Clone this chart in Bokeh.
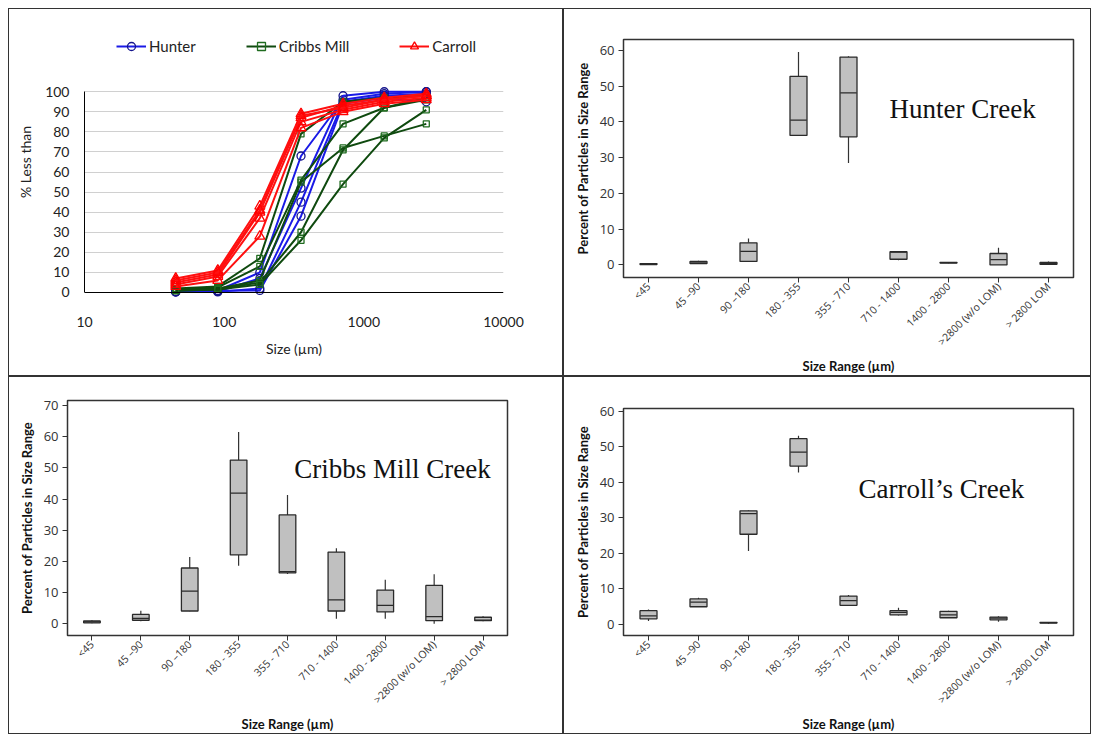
import math
from bokeh.plotting import figure
from bokeh.models import (Range1d, FactorRange, FixedTicker, Legend, LegendItem, Label,
                          ColumnDataSource, BasicTickFormatter, Span)
from bokeh.embed import file_html
from bokeh.resources import INLINE

# ---------------- data: cumulative curves ----------------
sizes = [45, 90, 180, 355, 710, 1400, 2800]

hunter_1 = [0.5, 1.0, 10, 68, 96, 99, 100]
hunter_2 = [0.3, 0.5, 7, 52, 98, 100, 100]
hunter_3 = [0.2, 0.3, 2, 45, 95, 98, 99]
hunter_4 = [0.4, 0.8, 1, 38, 94, 97, 95]

cribbs_1 = [2.0, 3.0, 17, 79, 95, 97, 98]
cribbs_2 = [1.5, 2.5, 13, 56, 84, 92, 96]
cribbs_3 = [1.0, 2.0, 6, 55, 72, 78, 84]
cribbs_4 = [1.0, 1.5, 5, 30, 71, 92, 97]
cribbs_5 = [0.8, 1.5, 4, 26, 54, 77, 91]

carroll_1 = [7, 11, 43, 89, 94, 97, 99]
carroll_2 = [5, 9, 40, 87, 93, 96, 98]
carroll_3 = [4, 8, 37, 85, 91, 95, 97]
carroll_4 = [3, 6, 28, 82, 90, 94, 96]
carroll_5 = [6, 10, 41, 88, 92, 96, 98]

# ---------------- data: box plots ----------------
categories = ["<45", "45 \u201390", "90 \u2013180", "180 - 355", "355 - 710",
              "710 - 1400", "1400 - 2800", ">2800 (w/o LOM)", "> 2800 LOM"]

hunter_lo  = [0.0, 0.3, 1.0, 36.2, 28.5, 1.3, 0.5, 0.0, 0.0]
hunter_q1  = [0.1, 0.4, 1.0, 36.2, 35.8, 1.6, 0.55, 0.0, 0.2]
hunter_med = [0.2, 0.6, 3.8, 40.5, 48.1, 3.6, 0.65, 1.5, 0.4]
hunter_q3  = [0.4, 1.0, 6.2, 52.7, 58.1, 3.7, 0.75, 3.2, 0.7]
hunter_hi  = [0.5, 1.2, 7.4, 59.5, 58.3, 3.9, 0.8, 4.8, 1.0]

cribbs_lo  = [0.2, 0.8, 4.0, 18.6, 16.0, 1.6, 1.6, 0.0, 0.8]
cribbs_q1  = [0.3, 1.1, 4.1, 22.1, 16.3, 4.1, 3.8, 1.0, 1.0]
cribbs_med = [0.6, 1.7, 10.5, 41.9, 16.7, 7.7, 5.9, 2.3, 1.2]
cribbs_q3  = [0.9, 3.0, 17.9, 52.5, 34.9, 23.0, 10.8, 12.3, 2.1]
cribbs_hi  = [1.1, 4.2, 21.4, 61.5, 41.3, 24.2, 14.1, 15.9, 2.4]

carroll_lo  = [1.0, 5.0, 20.7, 42.8, 5.2, 2.5, 1.8, 0.8, 0.2]
carroll_q1  = [1.6, 5.0, 25.4, 44.6, 5.4, 2.7, 1.9, 1.3, 0.4]
carroll_med = [2.4, 6.3, 31.2, 48.5, 6.7, 3.4, 2.7, 1.8, 0.5]
carroll_q3  = [3.9, 7.2, 32.0, 52.3, 8.0, 3.9, 3.7, 2.1, 0.6]
carroll_hi  = [4.2, 7.5, 32.2, 53.1, 8.3, 4.7, 3.9, 2.3, 0.6]

SANS = "Lato"


def panel_style(left, top):
    return {"position": "absolute", "left": f"{left}px", "top": f"{top}px",
            "border": "1.5px solid #333333", "box-sizing": "border-box"}


# ---------------- panel 1: cumulative curves ----------------
p1 = figure(width=555, height=368, x_axis_type="log",
            x_range=Range1d(10, 10000), y_range=Range1d(-3, 133),
            output_backend="svg", toolbar_location=None,
            min_border_left=75, min_border_right=61, min_border_top=16, min_border_bottom=79)
p1.styles = panel_style(8, 8)
p1.outline_line_color = None
p1.xgrid.visible = False
p1.ygrid.ticker = FixedTicker(ticks=list(range(10, 101, 10)))
p1.ygrid.grid_line_color = "#d0d0d0"
p1.add_layout(Span(location=0, dimension="width", line_color="#000000", line_width=1.2))

p1.xaxis.ticker = FixedTicker(ticks=[10, 100, 1000, 10000])
p1.xaxis.formatter = BasicTickFormatter(use_scientific=False)
p1.xaxis.axis_line_color = None
p1.xaxis.major_tick_line_color = None
p1.xaxis.minor_tick_line_color = None
p1.xaxis.major_label_standoff = 12
p1.xaxis.axis_label = "Size (\u00b5m)"
p1.xaxis.axis_label_standoff = 10

p1.yaxis.ticker = FixedTicker(ticks=list(range(0, 101, 10)))
p1.yaxis.bounds = (0, 100)
p1.yaxis.major_tick_line_color = None
p1.yaxis.minor_tick_line_color = None
p1.yaxis.major_label_standoff = 9
p1.yaxis.axis_line_color = "#000000"
p1.yaxis.axis_label = "% Less than"
p1.yaxis.axis_label_standoff = 8

for ax in (p1.xaxis, p1.yaxis):
    ax.major_label_text_font = SANS
    ax.major_label_text_font_size = "14px"
    ax.major_label_text_color = "#222222"
    ax.axis_label_text_font = SANS
    ax.axis_label_text_font_size = "14px"
    ax.axis_label_text_font_style = "normal"
    ax.axis_label_text_color = "#222222"

groups = [
    ("Hunter", [hunter_1, hunter_2, hunter_3, hunter_4], "#1a1ae6", "#14148c", "circle", 8),
    ("Cribbs Mill", [cribbs_1, cribbs_2, cribbs_3, cribbs_4, cribbs_5], "#0f4a0f", "#1f6b1f", "square", 6),
    ("Carroll", [carroll_1, carroll_2, carroll_3, carroll_4, carroll_5], "#ff1010", "#ff0000", "triangle", 10),
]
items = []
for name, runs, lcol, mcol, marker, msize in groups:
    first = None
    for run in runs:
        lr = p1.line(sizes, run, line_color=lcol, line_width=2)
        sr = p1.scatter(sizes, run, marker=marker, size=msize, line_color=mcol,
                        fill_color=None, line_width=1.3)
        if first is None:
            first = [lr, sr]
    items.append(LegendItem(label=name, renderers=first))

legend = Legend(items=items, location=(32, 242), orientation="horizontal",
                spacing=50, padding=0, margin=0, glyph_width=30, glyph_height=20,
                label_standoff=3, background_fill_alpha=0, border_line_color=None,
                label_text_font=SANS, label_text_font_size="15px", label_text_color="#222222")
p1.add_layout(legend)


# ---------------- box plot panels ----------------
def box_panel(lo, q1, med, q3, hi, y_end, y_start, y_ticks, creek, cx, cy,
              width, height, mb, pos):
    p = figure(width=width, height=height, x_range=FactorRange(*categories),
               y_range=Range1d(y_start, y_end), output_backend="svg",
               toolbar_location=None, min_border_left=mb[0], min_border_right=mb[1],
               min_border_top=mb[2], min_border_bottom=mb[3])
    p.styles = panel_style(*pos)
    src = ColumnDataSource(dict(x=categories, lo=lo, q1=q1, med=med, q3=q3, hi=hi))
    p.segment(x0="x", y0="lo", x1="x", y1="q1", source=src, line_color="#333333", line_width=1.2)
    p.segment(x0="x", y0="q3", x1="x", y1="hi", source=src, line_color="#333333", line_width=1.2)
    p.vbar(x="x", bottom="q1", top="q3", width=0.34, source=src,
           fill_color="#c0c0c0", line_color="#2a2a2a", line_width=1.3)
    p.scatter(x="x", y="med", marker="dash", size=16.5, source=src,
              line_color="#2a2a2a", line_width=1.3)
    p.grid.visible = False
    p.outline_line_color = "#333333"
    p.outline_line_width = 1.5
    p.yaxis.ticker = FixedTicker(ticks=y_ticks)
    for ax in (p.xaxis, p.yaxis):
        ax.axis_line_color = "#333333"
        ax.major_tick_line_color = "#333333"
        ax.major_tick_in = 0
        ax.major_tick_out = 5
        ax.minor_tick_line_color = None
        ax.major_label_text_font = "Open Sans"
        ax.major_label_text_color = "#333333"
        ax.axis_label_text_font = SANS
        ax.axis_label_text_font_style = "bold"
        ax.axis_label_text_font_size = "13px"
        ax.axis_label_text_color = "#111111"
    p.yaxis.major_label_text_font_size = "13px"
    p.yaxis.major_label_standoff = 4
    p.yaxis.axis_label = "Percent of Particles in Size Range"
    p.yaxis.axis_label_standoff = 6
    p.xaxis.major_label_text_font_size = "10.5px"
    p.xaxis.major_label_orientation = math.pi / 4
    p.xaxis.major_label_standoff = 2
    p.xaxis.axis_label = "Size Range (\u00b5m)"
    p.xaxis.axis_label_standoff = 2
    p.add_layout(Label(x=cx, y=cy, text=creek, text_font="Liberation Serif",
                       text_font_size="27px", text_color="#111111", text_baseline="middle"))
    return p


p2 = box_panel(hunter_lo, hunter_q1, hunter_med, hunter_q3, hunter_hi,
               63, -3.5, list(range(0, 61, 10)), "Hunter Creek", 5.32, 43.6,
               528, 368, (59, 19, 30, 95), (563, 8))
p3 = box_panel(cribbs_lo, cribbs_q1, cribbs_med, cribbs_q3, cribbs_hi,
               71.6, -3.75, list(range(0, 71, 10)), "Cribbs Mill Creek", 4.64, 49.7,
               555, 358, (58, 57, 23, 95), (8, 376))
p4 = box_panel(carroll_lo, carroll_q1, carroll_med, carroll_q3, carroll_hi,
               60.8, -3.1, list(range(0, 61, 10)), "Carroll\u2019s Creek", 4.7, 38,
               528, 358, (59, 19, 31, 95), (563, 376))

open("out.html", "w").write(file_html([p1, p2, p3, p4], INLINE))
